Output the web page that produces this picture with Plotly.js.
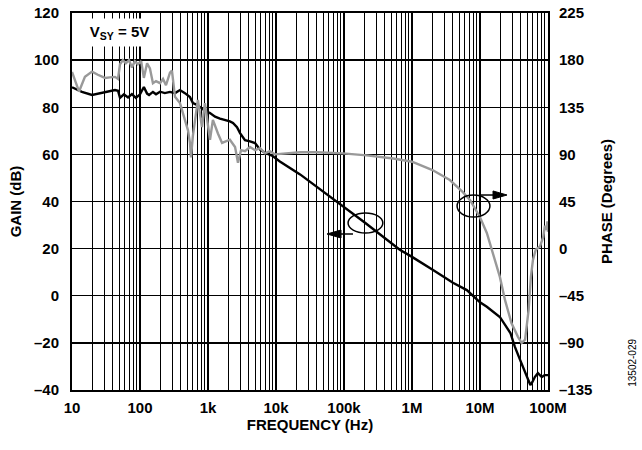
<!DOCTYPE html>
<html>
<head>
<meta charset="utf-8">
<script src="https://cdn.plot.ly/plotly-3.0.1.min.js"></script>
<style>html,body{margin:0;padding:0;background:#fff;}#chart{width:642px;height:450px;}</style>
</head>
<body>
<div id="chart"></div>
<script>
// Open-loop gain (dB) vs frequency (Hz)
var gainFreq = [10, 11.8, 14, 19.7, 30.6, 42.9, 47.5, 50.8, 58, 66.6, 76, 87, 100, 114, 127, 136, 155, 172, 197, 232, 276, 327, 387, 458, 543, 600, 687, 760, 900, 1070, 1270, 1500, 1780, 2100, 2330, 2670, 2960, 3500, 4150, 4920, 5830, 7100, 8720, 11400, 22600, 62300, 123000, 204000, 661000, 1000000, 2040000, 4000000, 6400000, 10000000, 12600000, 19600000, 28000000, 32500000, 39000000, 46000000, 55000000, 59000000, 64000000, 71000000, 81000000, 89000000, 100000000];
var gainDb = [88.5, 87.5, 86.5, 85.2, 86.5, 87.3, 87, 84, 85.5, 84.2, 85.6, 84, 85.5, 88.6, 85.8, 85.2, 86.5, 85.5, 86.6, 86, 86.5, 86, 87.3, 86, 84.3, 81.8, 81, 80, 78.5, 77.5, 76, 75.2, 74.6, 74, 73.3, 71.5, 69, 66, 65.5, 64.8, 62, 60.5, 59.5, 57, 51.5, 42, 36, 31, 19.5, 16.5, 10.9, 5.5, 2.4, -2.8, -4.7, -9, -15.8, -21.6, -27.3, -32.8, -37.9, -36.6, -34.5, -32.8, -34.5, -33.7, -33.7];

// Phase (degrees) vs frequency (Hz)
var phaseFreq = [10, 11.1, 12.7, 15.5, 19.7, 24, 30.6, 36, 42.9, 47.5, 50.8, 56, 62, 69, 76, 84, 93, 104, 114, 127, 140, 155, 172, 197, 218, 241, 276, 295, 327, 387, 458, 508, 543, 562, 600, 640, 710, 815, 900, 1070, 1180, 1400, 1610, 2100, 2500, 2760, 3060, 3500, 4150, 4920, 5830, 6900, 8100, 9600, 14600, 22600, 40000, 96000, 216000, 530000, 1000000, 2000000, 3600000, 5600000, 7200000, 10000000, 12600000, 19600000, 23300000, 29000000, 36000000, 41000000, 46000000, 52000000, 56000000, 60000000, 66000000, 76000000, 85000000, 90000000, 95000000, 98000000, 100000000];
var phaseDeg = [168.7, 160, 150, 164, 169, 166, 163, 163.5, 164, 162, 176, 180, 177, 180, 173, 179, 176, 179, 163, 177, 172, 158, 160, 158, 162, 156, 168, 170, 145, 139, 123, 113, 101, 87, 108, 120, 142, 116, 139, 104, 123, 110, 101, 104, 97, 82, 94, 93, 97, 94, 96, 91, 93, 90, 91, 92, 92, 91, 89, 86, 83, 75, 65.5, 54, 46, 30, 15, -27, -49, -71, -84, -90, -87, -58, -27, -11, -1, 2, 11, 22, 18, 26, 16];

// Tick labels
var xTickVals = [10, 100, 1000, 10000, 100000, 1000000, 10000000, 100000000];
var xTickText = ["10", "100", "1k", "10k", "100k", "1M", "10M", "100M"];
var gainTickVals = [-40, -20, 0, 20, 40, 60, 80, 100, 120];
var gainTickText = ["\u201340", "\u201320", "0", "20", "40", "60", "80", "100", "120"];
var phaseTickVals = [-135, -90, -45, 0, 45, 90, 135, 180, 225];
var phaseTickText = ["\u2013135", "\u201390", "\u201345", "0", "45", "90", "135", "180", "225"];

var minorVals = [];
for (var e = 1; e < 8; e++) {
  for (var m = 2; m <= 9; m++) minorVals.push(m * Math.pow(10, e));
}

var FONT = "Arial, 'Liberation Sans', Helvetica, sans-serif";
var FS = 15;

var traces = [
  {x: phaseFreq, y: phaseDeg, yaxis: 'y2', type: 'scatter', mode: 'lines',
   line: {color: '#999999', width: 2.4}, hoverinfo: 'skip', showlegend: false},
  {x: gainFreq, y: gainDb, type: 'scatter', mode: 'lines',
   line: {color: '#000000', width: 2.4}, hoverinfo: 'skip', showlegend: false}
];

function P(x, y) { return ((x - 72) / 476).toFixed(4) + ',' + ((390 - y) / 377).toFixed(4); }

var layout = {
  width: 642, height: 450,
  margin: {l: 72, r: 94, t: 13, b: 60},
  paper_bgcolor: '#ffffff', plot_bgcolor: '#ffffff',
  font: {family: FONT, size: FS, color: '#000', weight: 700},
  showlegend: false,
  xaxis: {
    type: 'log', range: [1, 8],
    tickmode: 'array', tickvals: xTickVals, ticktext: xTickText,
    showgrid: true, gridcolor: '#000', gridwidth: 2,
    minor: {tickmode: 'array', tickvals: minorVals, showgrid: true, gridcolor: '#000', gridwidth: 1, ticks: ''},
    showline: true, mirror: true, linecolor: '#000', linewidth: 2,
    ticks: 'outside', ticklen: 3, tickcolor: 'rgba(0,0,0,0)', zeroline: false,
    tickfont: {family: FONT, size: FS, weight: 700},
    title: {text: 'FREQUENCY (Hz)', font: {family: FONT, size: FS, weight: 700}, standoff: 3}
  },
  yaxis: {
    range: [-40, 120],
    tickmode: 'array', tickvals: gainTickVals, ticktext: gainTickText,
    showgrid: true, gridcolor: '#000', gridwidth: 1.3,
    showline: true, mirror: true, linecolor: '#000', linewidth: 2,
    ticks: 'outside', ticklen: 8, tickcolor: 'rgba(0,0,0,0)', zeroline: false,
    tickfont: {family: FONT, size: FS, weight: 700},
    title: {text: 'GAIN (dB)', font: {family: FONT, size: FS, weight: 700}, standoff: 9}
  },
  yaxis2: {
    overlaying: 'y', side: 'right',
    range: [-135, 225],
    tickmode: 'array', tickvals: phaseTickVals, ticktext: phaseTickText,
    showgrid: false, zeroline: false,
    ticks: 'outside', ticklen: 7, tickcolor: 'rgba(0,0,0,0)',
    tickfont: {family: FONT, size: FS, weight: 700},
    title: {text: 'PHASE (Degrees)', font: {family: FONT, size: FS, weight: 700}, standoff: 10}
  },
  shapes: [
    // callout ellipses
    {type: 'circle', xref: 'paper', yref: 'paper', x0: 0.580, x1: 0.653, y0: 0.4164, y1: 0.4695,
     line: {color: '#000', width: 1.5}},
    {type: 'circle', xref: 'paper', yref: 'paper', x0: 0.809, x1: 0.878, y0: 0.459, y1: 0.517,
     line: {color: '#000', width: 1.5}},
    // gain arrow (points left to gain axis)
    {type: 'path', xref: 'paper', yref: 'paper', path: 'M' + P(353, 234) + 'L' + P(340, 234),
     line: {color: '#000', width: 1.5}},
    {type: 'path', xref: 'paper', yref: 'paper',
     path: 'M' + P(327, 234) + 'L' + P(341, 230) + 'L' + P(341, 238) + 'Z',
     fillcolor: '#000', line: {color: '#000', width: 1}},
    // phase arrow (points right to phase axis)
    {type: 'path', xref: 'paper', yref: 'paper', path: 'M' + P(480, 195) + 'L' + P(494, 195),
     line: {color: '#000', width: 1.5}},
    {type: 'path', xref: 'paper', yref: 'paper',
     path: 'M' + P(507, 195) + 'L' + P(493, 191) + 'L' + P(493, 199) + 'Z',
     fillcolor: '#000', line: {color: '#000', width: 1}}
  ],
  annotations: [
    {xref: 'paper', yref: 'paper', x: 0.0168, y: 0.987, xanchor: 'left', yanchor: 'top',
     text: 'V<sub>SY</sub> = 5V', showarrow: false, bgcolor: '#ffffff', borderpad: 0,
     width: 77, height: 27, align: 'center', valign: 'middle',
     font: {family: FONT, size: FS, weight: 700, color: '#000'}},
    {xref: 'paper', yref: 'paper', x: 1.176, y: 0.0716, xanchor: 'center', yanchor: 'middle',
     text: '13502-029', showarrow: false,
     textangle: -90, font: {family: FONT, size: 10, weight: 400, color: '#000'}}
  ]
};

Plotly.newPlot('chart', traces, layout, {staticPlot: true, displayModeBar: false});
</script>
</body>
</html>
